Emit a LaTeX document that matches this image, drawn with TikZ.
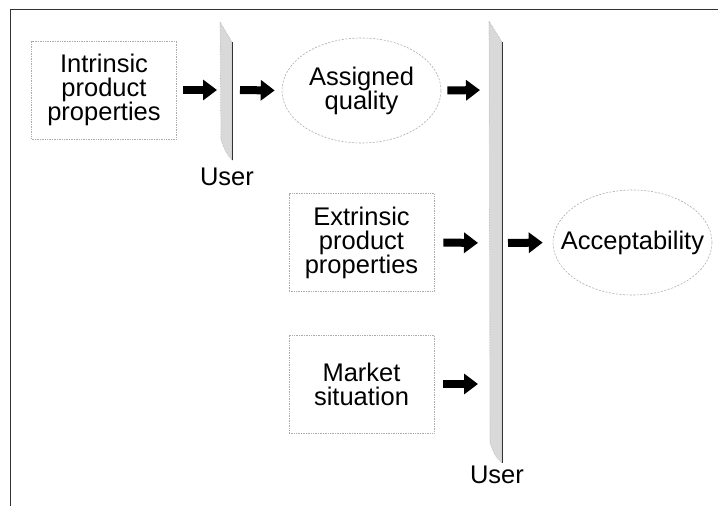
\documentclass[tikz,border=0pt]{standalone}
\usepackage{fontspec}
\setmainfont{Liberation Sans}
\usetikzlibrary{shapes.geometric,arrows.meta}

\tikzset{
  lbl/.style={font={\fontsize{25.5}{24}\selectfont}, align=center, inner sep=0pt},
  propbox/.style={lbl, draw=gray!65, densely dotted, line width=0.7pt,
    minimum width=145pt, minimum height=98pt},
  oval/.style={ellipse, draw=gray!65, dash pattern=on 2pt off 1.5pt,
    line width=0.6pt, inner sep=0pt, minimum width=159pt, minimum height=105pt},
  fat/.style={line width=8pt, draw=black,
    -{Triangle[length=14pt 0 0,width=20pt 0 0]}},
  screen/.style={fill=gray!30, draw=gray!60, densely dotted, line width=0.6pt},
  screenedge/.style={draw=black!80, line width=0.9pt},
}

\begin{document}
\begin{tikzpicture}[x=1pt,y=-1pt]
  \useasboundingbox (0,0) rectangle (718,506);

  % frame
  \draw[black!80, line width=1pt] (718,9) -- (10,9) -- (10,506);

  % user screens
  \path[screen] (220,22) -- (232,42) -- (232,160) .. controls (226,153) .. (221,140) -- cycle;
  \draw[screenedge] (232,42) -- (232,160);
  \path[screen] (489,21) -- (502,42) -- (502,463) .. controls (495,456) .. (490,443) -- cycle;
  \draw[screenedge] (502,42) -- (502,463);

  \coordinate (p1w) at (220,90);
  \coordinate (p1e) at (232,90);
  \coordinate (p2a) at (489,90);
  \coordinate (p2b) at (489,243);
  \coordinate (p2c) at (489,384);
  \coordinate (p2e) at (502,243);

  \node[lbl] (user1) at (227,177) {User};
  \node[lbl] (user2) at (497,475) {User};

  % boxes and ovals
  \node[propbox] (ipp) at (104,90) {Intrinsic\\product\\properties};
  \node[propbox] (epp) at (361.5,242.5) {Extrinsic\\product\\properties};
  \node[propbox] (mkt) at (361.5,384) {Market\\situation};
  \node[oval] (aq) at (361.5,90.5) {};
  \node[lbl] (aqtext) at (aq.center) {Assigned\\quality};
  \node[oval] (acc) at (632.5,242.5) {};
  \node[lbl] (acctext) at (acc.center) {Acceptability};

  % arrows
  \draw[fat, shorten <=6pt, shorten >=3pt] (ipp.east) -- (p1w);
  \draw[fat, shorten <=8pt, shorten >=7pt] (p1e) -- (aq.west);
  \draw[fat, shorten <=6pt, shorten >=9pt] (aq.east) -- (p2a);
  \draw[fat, shorten <=9pt, shorten >=11pt] (epp.east) -- (p2b);
  \draw[fat, shorten <=9pt, shorten >=11pt] (mkt.east) -- (p2c);
  \draw[fat, shorten <=6pt, shorten >=10pt] (p2e) -- (acc.west);
\end{tikzpicture}
\end{document}
